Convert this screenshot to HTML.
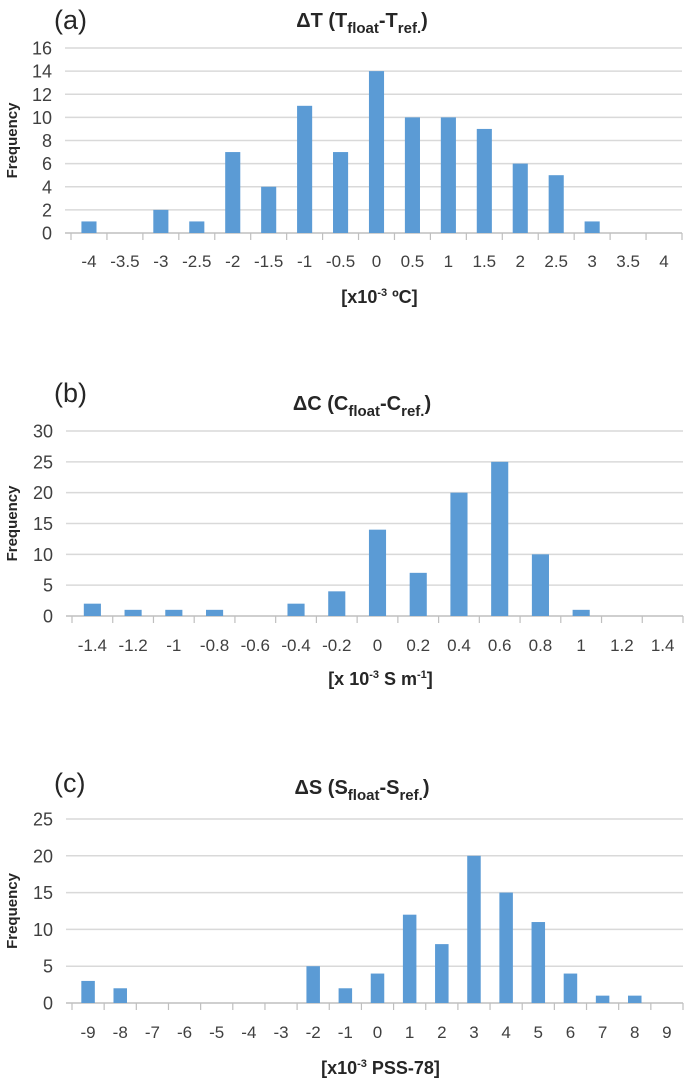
<!DOCTYPE html>
<html><head><meta charset="utf-8"><style>
html,body{margin:0;padding:0;background:#fff;}
svg{display:block;font-family:"Liberation Sans",sans-serif;}
</style></head><body>
<svg id="chart" width="685" height="1081" viewBox="0 0 685 1081"></svg>
<script>
const catsA = ["-4","-3.5","-3","-2.5","-2","-1.5","-1","-0.5","0","0.5","1","1.5","2","2.5","3","3.5","4"];
const valsA = [1,0,2,1,7,4,11,7,14,10,10,9,6,5,1,0,0];
const yTicksA = [0,2,4,6,8,10,12,14,16];
const catsB = ["-1.4","-1.2","-1","-0.8","-0.6","-0.4","-0.2","0","0.2","0.4","0.6","0.8","1","1.2","1.4"];
const valsB = [2,1,1,1,0,2,4,14,7,20,25,10,1,0,0];
const yTicksB = [0,5,10,15,20,25,30];
const catsC = ["-9","-8","-7","-6","-5","-4","-3","-2","-1","0","1","2","3","4","5","6","7","8","9"];
const valsC = [3,2,0,0,0,0,0,5,2,4,12,8,20,15,11,4,1,1,0];
const yTicksC = [0,5,10,15,20,25];

const NS="http://www.w3.org/2000/svg";
const svg=document.getElementById('chart');
function mk(tag,attrs,parent){const e=document.createElementNS(NS,tag);for(const k in attrs)e.setAttribute(k,attrs[k]);(parent||svg).appendChild(e);return e;}

function panel(p){
  const g=mk('g',{});
  
  
  const x0=p.left,x1=p.right,yTop=p.yTop,yBot=p.yBot;
  const ymax=p.yTicks[p.yTicks.length-1];
  const n=p.cats.length, cw=(x1-x0)/n;
  const ys=v=>yBot-(v/ymax)*(yBot-yTop);
  const xs=i=>x0+cw*(i+0.5);
  p.yTicks.forEach(t=>{
    const l=mk('line',{x1:x0-6,x2:x1,y1:ys(t),y2:ys(t),stroke:t===0?'#bfbfbf':'#d9d9d9','stroke-width':1.5},g);
    
    
    const tx=mk('text',{x:x0-19,y:ys(t)+6.5,'text-anchor':'end','font-size':18,fill:'#404040'},g);
    tx.textContent=t;
    
    
  });
  for(let i=0;i<=n;i++){
    const xx=x0+cw*i;
    const tk=mk('line',{x1:xx,x2:xx,y1:yBot,y2:yBot+7,stroke:'#bfbfbf','stroke-width':1.2},g);
    
    
  }
  const bw=cw*0.42;
  p.vals.forEach((v,i)=>{
    if(v<=0)return;
    const r=mk('rect',{x:xs(i)-bw/2,y:ys(v),width:bw,height:yBot-ys(v),fill:'#5b9bd5'},g);
    
    
  });
  p.cats.forEach((c,i)=>{
    const tx=mk('text',{x:xs(i),y:p.labY,'text-anchor':'middle','font-size':17,fill:'#404040'},g);
    tx.textContent=c;
    
    
  });
  const yl=mk('text',{x:0,y:0,transform:`translate(17,${(yTop+yBot)/2}) rotate(-90)`,'text-anchor':'middle','font-size':15,'font-weight':'bold',fill:'#262626'},g);
  yl.textContent='Frequency';
  
  
  const pl=mk('text',{x:54,y:p.tagY,'font-size':27,fill:'#262626'},g);
  pl.textContent=p.tag;
  
  
  const t=mk('text',{x:p.titleX,y:p.titleY,'text-anchor':'middle','font-size':20,'font-weight':'bold',fill:'#262626'},g);
  t.innerHTML=p.title;
  
  
  const xt=mk('text',{x:(x0+x1)/2+3,y:p.xtY,'text-anchor':'middle','font-size':18,'font-weight':'bold',fill:'#262626'},g);
  xt.innerHTML=p.xtitle;
  
  
}

panel({id:'a',cats:catsA,vals:valsA,yTicks:yTicksA,left:71,right:682,yTop:48,yBot:233,labY:267,tag:'(a)',tagY:29,titleX:362,titleY:27,
  title:'ΔT (T<tspan font-size="15" dy="6">float</tspan><tspan dy="-6">-T</tspan><tspan font-size="15" dy="6">ref.</tspan><tspan dy="-6">)</tspan>',
  xtY:303,xtitle:'[x10<tspan font-size="11" dy="-7">-3</tspan><tspan dy="7"> ºC]</tspan>'});
panel({id:'b',cats:catsB,vals:valsB,yTicks:yTicksB,left:72,right:683,yTop:431,yBot:616,labY:651,tag:'(b)',tagY:402,titleX:362,titleY:410,
  title:'ΔC (C<tspan font-size="15" dy="6">float</tspan><tspan dy="-6">-C</tspan><tspan font-size="15" dy="6">ref.</tspan><tspan dy="-6">)</tspan>',
  xtY:685,xtitle:'[x 10<tspan font-size="11" dy="-7">-3</tspan><tspan dy="7"> S m</tspan><tspan font-size="11" dy="-7">-1</tspan><tspan dy="7">]</tspan>'});
panel({id:'c',cats:catsC,vals:valsC,yTicks:yTicksC,left:72,right:683,yTop:819,yBot:1003,labY:1038,tag:'(c)',tagY:792,titleX:362,titleY:794,
  title:'ΔS (S<tspan font-size="15" dy="6">float</tspan><tspan dy="-6">-S</tspan><tspan font-size="15" dy="6">ref.</tspan><tspan dy="-6">)</tspan>',
  xtY:1074,xtitle:'[x10<tspan font-size="11" dy="-7">-3</tspan><tspan dy="7"> PSS-78]</tspan>'});
</script>
</body></html>
